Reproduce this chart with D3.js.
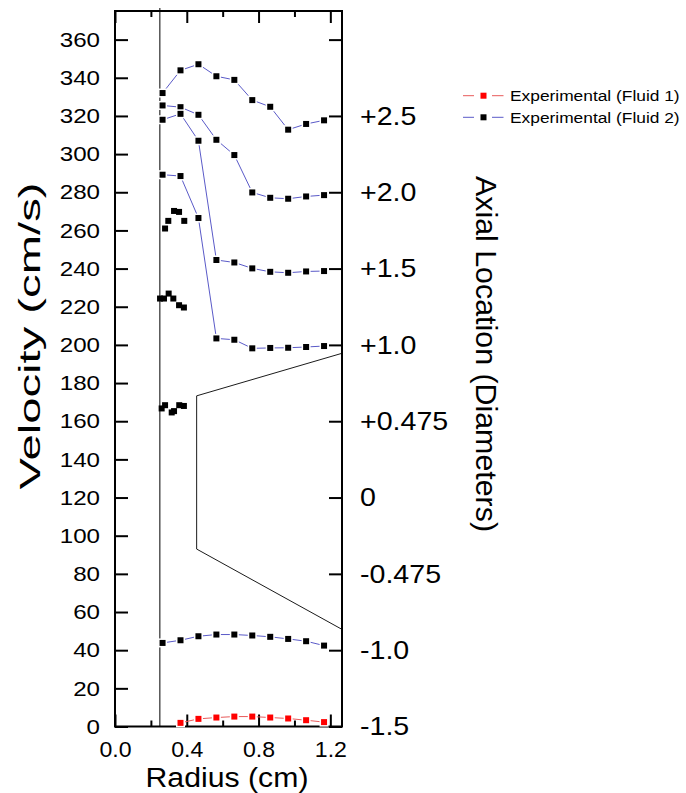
<!DOCTYPE html>
<html><head><meta charset="utf-8">
<script src="https://cdn.jsdelivr.net/npm/d3@7"></script>
<style>
html,body{margin:0;padding:0;background:#fff;}
svg{display:block;font-family:Arial,"Liberation Sans",Helvetica,sans-serif;}
</style></head><body>
<svg id="chart" width="686" height="793"></svg>
<script>
// Radial measurement stations (cm)
const radius = [0.265, 0.365, 0.465, 0.565, 0.665, 0.765, 0.865, 0.965, 1.065, 1.165];
const fluid1Radius = [0.365, 0.465, 0.565, 0.665, 0.765, 0.865, 0.965, 1.065, 1.165];
const fluid1Velocity = [1.9, 4.0, 4.7, 5.2, 5.2, 4.7, 4.2, 3.3, 2.3];
// Fluid 2 velocity profiles at each axial station (cm/s)
const fluid2AtMinus10 = [43.8, 45.2, 47.3, 48.2, 48.2, 47.7, 47.0, 45.9, 44.7, 42.4];
const fluid2AtPlus10 = [289.2, 288.5, 266.5, 203.4, 202.7, 198.2, 198.4, 198.5, 198.9, 199.4];
const fluid2AtPlus15 = [318.0, 321.1, 307.0, 244.5, 243.2, 240.1, 238.3, 237.8, 238.5, 238.7];
const fluid2AtPlus20 = [325.5, 324.6, 320.6, 307.5, 299.5, 279.9, 277.1, 276.6, 277.8, 278.5];
const fluid2AtPlus25 = [332.0, 343.9, 347.1, 340.8, 338.9, 328.3, 324.8, 312.8, 315.8, 317.7];
// Near-wall Fluid 2 readings (not joined)
const nearWallA_r = [0.279, 0.297, 0.329, 0.357, 0.386];
const nearWallA_v = [261.0, 265.0, 270.2, 269.7, 265.0];
const nearWallB_r = [0.251, 0.273, 0.299, 0.325, 0.357, 0.384];
const nearWallB_v = [224.3, 224.3, 226.9, 224.3, 220.8, 219.6];
const nearWallC_r = [0.260, 0.279, 0.316, 0.329, 0.358, 0.384];
const nearWallC_v = [166.7, 168.4, 164.6, 165.3, 168.4, 168.0];
// Inner wall and stenosis outline
const innerWallRadius = 0.25;
const outlineR = [1.265, 0.455, 0.455, 1.265];
const outlineV = [195.6, 173.3, 93.0, 50.9];
// Axes
const velocityTicks = d3.range(0, 361, 20);
const rightTickValues = d3.range(0, 361, 40);
const axialTickValues = [0, 40, 80, 120, 160, 200, 240, 280, 320];
const axialLabels = ["-1.5", "-1.0", "-0.475", "0", "+0.475", "+1.0", "+1.5", "+2.0", "+2.5"];
const radiusMajor = [0, 0.4, 0.8, 1.2];
const radiusMinor = [0.2, 0.6, 1.0];
const legendLabels = ["Experimental (Fluid 1)", "Experimental (Fluid 2)"];
const seriesColors = {fluid1: {line: "#e85a5a", mark: "#ff0000"}, fluid2: {line: "#5a5ac8", mark: "#000000"}};

const svg = d3.select("#chart");
const L = 115, R = 342, T = 11, B = 726.5;
const x = d3.scaleLinear().domain([0, 1.265]).range([L, R]);
const y = d3.scaleLinear().domain([0, 375]).range([B, T]);
const FONT = "Arial, Liberation Sans, sans-serif";

// inner wall line
svg.append("line")
  .attr("x1", x(innerWallRadius)).attr("x2", x(innerWallRadius))
  .attr("y1", y(375) - 3).attr("y2", y(0))
  .attr("stroke", "#000").attr("stroke-width", 1);

// stenosis outline
svg.append("path")
  .attr("d", d3.line().x((d, i) => x(outlineR[i])).y((d, i) => y(outlineV[i]))(outlineR))
  .attr("fill", "none").attr("stroke", "#000").attr("stroke-width", 0.9);

// left axis
const gl = svg.append("g").attr("transform", `translate(${L},0)`)
  .call(d3.axisLeft(y).tickValues(velocityTicks).tickSizeInner(-13).tickSizeOuter(0).tickPadding(15));
gl.select(".domain").remove();
gl.selectAll(".tick line").attr("stroke-width", 2);
gl.selectAll("text").attr("font-size", 21).attr("fill", "#000").attr("font-family", FONT)
  .attr("transform", "scale(1.15,1)").attr("x", -15 / 1.15);

// right ticks
const gr = svg.append("g").attr("transform", `translate(${R},0)`)
  .call(d3.axisRight(y).tickValues(rightTickValues).tickSizeInner(-13).tickSizeOuter(0).tickFormat(""));
gr.select(".domain").remove();
gr.selectAll(".tick line").attr("stroke-width", 2);

// right labels (axial location)
const gr2 = svg.append("g").attr("transform", `translate(${R},0)`)
  .call(d3.axisRight(y).tickValues(axialTickValues).tickSize(0).tickPadding(18)
    .tickFormat(d => axialLabels[axialTickValues.indexOf(d)]));
gr2.select(".domain").remove();
gr2.selectAll("text").attr("font-size", 26).attr("fill", "#000").attr("font-family", FONT)
  .attr("transform", "scale(1.1,1)").attr("x", 18 / 1.1);

// bottom axis
const gb = svg.append("g").attr("transform", `translate(0,${B})`)
  .call(d3.axisBottom(x).tickValues(radiusMajor).tickSizeInner(-12).tickSizeOuter(0).tickPadding(15)
    .tickFormat(d3.format(".1f")));
gb.select(".domain").remove();
gb.selectAll(".tick line").attr("stroke-width", 2);
gb.selectAll("text").attr("font-size", 22).attr("fill", "#000").attr("font-family", FONT)
  .attr("transform", "scale(1.05,1)");
const gbm = svg.append("g").attr("transform", `translate(0,${B})`)
  .call(d3.axisBottom(x).tickValues(radiusMinor).tickSizeInner(-6).tickSizeOuter(0).tickFormat(""));
gbm.select(".domain").remove();
gbm.selectAll(".tick line").attr("stroke-width", 2);

// top ticks
const gt = svg.append("g").attr("transform", `translate(0,${T})`)
  .call(d3.axisTop(x).tickValues(radiusMajor).tickSizeInner(-12).tickSizeOuter(0).tickFormat(""));
gt.select(".domain").remove();
gt.selectAll(".tick line").attr("stroke-width", 2);
const gtm = svg.append("g").attr("transform", `translate(0,${T})`)
  .call(d3.axisTop(x).tickValues(radiusMinor).tickSizeInner(-6).tickSizeOuter(0).tickFormat(""));
gtm.select(".domain").remove();
gtm.selectAll(".tick line").attr("stroke-width", 2);

// frame
svg.append("rect").attr("x", L).attr("y", T).attr("width", R - L).attr("height", B - T)
  .attr("fill", "none").attr("stroke", "#000").attr("stroke-width", 2);

// connected series
function drawSeries(rs, vs, col) {
  const pts = rs.map((r, i) => [x(r), y(vs[i])]);
  svg.append("path").attr("d", d3.line()(pts)).attr("fill", "none")
    .attr("stroke", col.line).attr("stroke-width", 1);
  svg.append("g").selectAll("rect").data(pts).join("rect")
    .attr("x", d => d[0] - 4.5).attr("y", d => d[1] - 4.5).attr("width", 9).attr("height", 9)
    .attr("fill", "#fff");
  svg.append("g").selectAll("rect").data(pts).join("rect")
    .attr("x", d => d[0] - 3).attr("y", d => d[1] - 3).attr("width", 6).attr("height", 6)
    .attr("fill", col.mark);
}
function drawScatter(rs, vs, col) {
  svg.append("g").selectAll("rect").data(rs).join("rect")
    .attr("x", (d) => x(d) - 3).attr("y", (d, i) => y(vs[i]) - 3).attr("width", 6).attr("height", 6)
    .attr("fill", col.mark);
}
drawSeries(radius, fluid2AtPlus25, seriesColors.fluid2);
drawSeries(radius, fluid2AtPlus20, seriesColors.fluid2);
drawSeries(radius, fluid2AtPlus15, seriesColors.fluid2);
drawSeries(radius, fluid2AtPlus10, seriesColors.fluid2);
drawSeries(radius, fluid2AtMinus10, seriesColors.fluid2);
drawSeries(fluid1Radius, fluid1Velocity, seriesColors.fluid1);
drawScatter(nearWallA_r, nearWallA_v, seriesColors.fluid2);
drawScatter(nearWallB_r, nearWallB_v, seriesColors.fluid2);
drawScatter(nearWallC_r, nearWallC_v, seriesColors.fluid2);

// axis titles
svg.append("text").attr("font-size", 27).attr("text-anchor", "middle").attr("font-family", FONT)
  .attr("transform", `translate(227,787) scale(1.12,1)`).text("Radius (cm)");
svg.append("text").attr("font-size", 30).attr("text-anchor", "middle").attr("font-family", FONT)
  .attr("textLength", 307).attr("lengthAdjust", "spacingAndGlyphs")
  .attr("transform", `translate(40,336) rotate(-90)`).text("Velocity (cm/s)");
svg.append("text").attr("font-size", 29).attr("text-anchor", "middle").attr("font-family", FONT)
  .attr("textLength", 356).attr("lengthAdjust", "spacingAndGlyphs")
  .attr("transform", `translate(476,354) rotate(90)`).text("Axial Location (Diameters)");

// legend
const lg = svg.append("g");
[seriesColors.fluid1, seriesColors.fluid2].forEach((col, i) => {
  const cy = 95.7 + i * 21.6;
  lg.append("line").attr("x1", 463).attr("x2", 474).attr("y1", cy).attr("y2", cy).attr("stroke", col.line);
  lg.append("line").attr("x1", 492).attr("x2", 503.5).attr("y1", cy).attr("y2", cy).attr("stroke", col.line);
  lg.append("rect").attr("x", 480.5).attr("y", cy - 3).attr("width", 6).attr("height", 6).attr("fill", col.mark);
  lg.append("text").attr("font-size", 15.5).attr("dy", "0.36em").attr("font-family", FONT)
    .attr("transform", `translate(510,${cy}) scale(1.12,1)`).text(legendLabels[i]);
});
</script></body></html>
